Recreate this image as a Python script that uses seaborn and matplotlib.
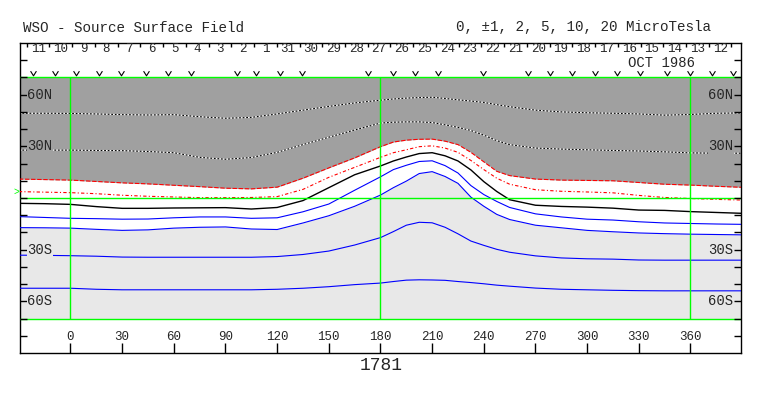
import matplotlib
matplotlib.use("Agg")
import matplotlib.pyplot as plt
from matplotlib.path import Path
import seaborn as sns

# ---------------- data ----------------
lon = [-30, -15, 0, 15, 30, 45, 60, 75, 90, 105, 120, 135, 150, 165, 180, 187.5,
       195, 202.5, 210, 217.5, 225, 232.5, 240, 247.5, 255, 270, 285, 300, 315, 330, 345, 360, 375, 390]

# contour latitudes (deg)
dot_upper = [49.2, 49.2, 49.1, 48.8, 48.4, 48.2, 48.4, 47.2, 46.3, 46.8, 48.8, 51.0, 53.2, 55.2, 56.8, 57.5,
             58.0, 58.3, 58.5, 57.8, 57.0, 56.3, 55.5, 54.2, 53.0, 51.0, 50.0, 49.5, 49.2, 48.8, 48.1, 48.5, 49.2, 49.4]
dot_lower = [27.8, 27.8, 27.8, 27.6, 27.5, 27.0, 26.3, 23.6, 22.5, 23.5, 26.5, 31.0, 35.3, 39.5, 43.5, 44.0,
             44.2, 44.2, 43.8, 42.5, 41.0, 39.2, 36.5, 33.3, 31.0, 29.0, 28.4, 28.0, 27.6, 27.3, 26.8, 26.2, 26.0, 26.0]
red_upper = [11.0, 10.7, 10.4, 9.6, 8.8, 8.2, 7.4, 6.6, 5.7, 5.3, 6.3, 11.5, 17.5, 23.3, 29.8, 32.5,
             33.6, 34.1, 34.2, 33.0, 31.0, 26.5, 21.0, 15.5, 13.0, 11.0, 10.4, 10.2, 10.0, 9.0, 8.0, 7.5, 6.8, 6.2]
red_lower = [3.7, 3.4, 3.1, 2.5, 1.6, 1.0, 0.6, 0.2, 0.2, 0.3, 0.8, 5.0, 12.0, 17.8, 23.6, 26.3,
             28.0, 29.8, 30.3, 29.0, 26.5, 21.8, 16.5, 11.5, 8.0, 4.8, 3.9, 3.5, 3.0, 1.5, 0.3, -0.3, -0.8, -1.2]
neutral = [-3.1, -3.3, -3.7, -5.0, -6.0, -6.0, -5.8, -5.7, -5.6, -6.4, -5.5, -1.5, 6.0, 13.5, 18.6, 21.5,
           23.8, 25.8, 26.3, 24.5, 21.5, 16.3, 9.5, 3.8, -1.0, -4.2, -4.9, -5.3, -5.9, -7.0, -7.2, -7.9, -8.4, -8.9]
blue_1 = [-10.8, -11.3, -11.8, -12.0, -12.3, -12.2, -11.5, -11.0, -11.0, -11.8, -11.5, -8.0, -3.5, 4.5, 12.3, 16.5,
          19.0, 21.2, 21.6, 18.8, 14.5, 7.2, 2.0, -2.0, -5.5, -9.2, -11.0, -12.3, -12.8, -13.8, -14.5, -14.8, -15.1, -15.3]
blue_2 = [-17.2, -17.3, -17.5, -18.2, -18.8, -18.5, -17.5, -17.0, -16.8, -18.0, -18.3, -14.5, -10.3, -4.8, 1.7, 6.0,
          9.8, 14.2, 15.3, 12.5, 8.5, 0.5, -4.8, -9.5, -12.5, -15.8, -17.3, -18.8, -19.6, -20.3, -20.7, -21.0, -21.2, -21.4]
blue_3 = [-33.2, -33.3, -33.5, -33.8, -34.3, -34.4, -34.4, -34.4, -34.4, -34.4, -34.0, -32.8, -30.8, -27.3, -23.0, -19.5,
          -15.8, -14.1, -14.4, -17.0, -20.8, -25.0, -27.5, -29.8, -31.5, -33.6, -34.8, -35.3, -35.5, -36.0, -36.1, -36.1, -36.1, -36.1]
blue_4 = [-52.4, -52.4, -52.4, -53.0, -53.3, -53.3, -53.3, -53.3, -53.3, -53.3, -53.0, -52.4, -51.5, -50.3, -49.4, -48.5,
          -47.7, -47.5, -47.6, -47.8, -48.5, -49.1, -49.8, -50.6, -51.2, -52.3, -53.0, -53.3, -53.6, -53.8, -53.9, -53.9, -53.9, -53.9]

# observation markers (longitude)
obs_lon = [-21.8, -9.0, 3.2, 16.6, 29.2, 43.8, 56.4, 70.0, 96.5, 108.0, 121.7, 134.3, 173.0,
           187.3, 200.0, 213.4, 239.5, 265.7, 278.5, 291.0, 304.6, 317.2, 330.7, 346.2, 359.8, 372.4, 384.7]

# day labels along the top (right-to-left in time)
day_labels = ["11", "10", "9", "8", "7", "6", "5", "4", "3", "2", "1", "31", "30", "29", "28", "27",
              "26", "25", "24", "23", "22", "21", "20", "19", "18", "17", "16", "15", "14", "13", "12"]
day_first_tick = -25.4
day_step = 13.2

lon_ticks = [0, 30, 60, 90, 120, 150, 180, 210, 240, 270, 300, 330, 360]
lat_ticks = [-80, -70, -60, -50, -40, -30, -20, -10, 0, 10, 20, 30, 40, 50, 60, 70, 80]
lat_labels = {60: "60N", 30: "30N", -30: "30S", -60: "60S"}

# ---------------- figure ----------------
sns.set_style("white")
plt.rcParams["font.family"] = ["Liberation Mono", "DejaVu Sans Mono"]

W, H = 763, 396
fig = plt.figure(figsize=(W / 100, H / 100), dpi=100)
ax = fig.add_axes([20 / W, 43 / H, 721 / W, 310 / H])
X0, X1 = -29.32, 389.33
ax.set_xlim(X0, X1)
ax.set_ylim(-90, 90)
ax.set_xticks([])
ax.set_yticks([])
for s in ax.spines.values():
    s.set_linewidth(1.0)
    s.set_color("black")
ax.set_facecolor("white")

DARK = "#a0a0a0"
LIGHT = "#e8e8e8"
GREEN = "#00ff00"

# shading
ax.fill_between(lon, red_upper, 70, color=DARK, lw=0, zorder=0)
ax.fill_between(lon, -70, blue_2, color=LIGHT, lw=0, zorder=0)

lw = 0.8
# dotted (black/white) contours on dark region
for arr in (dot_upper, dot_lower):
    sns.lineplot(x=lon, y=arr, ax=ax, color="white", lw=lw, zorder=2)
    sns.lineplot(x=lon, y=arr, ax=ax, color="black", lw=lw, linestyle=(0, (1.6, 1.6)), zorder=3)
sns.lineplot(x=lon, y=red_upper, ax=ax, color="#ff0000", lw=lw, linestyle=(0, (4, 1.5)), zorder=3)
sns.lineplot(x=lon, y=red_lower, ax=ax, color="#ff0000", lw=lw, linestyle=(0, (3, 2, 1, 2)), zorder=3)
sns.lineplot(x=lon, y=neutral, ax=ax, color="black", lw=1.0, zorder=3)
for arr in (blue_1, blue_2, blue_3, blue_4):
    sns.lineplot(x=lon, y=arr, ax=ax, color="#0000ff", lw=lw, zorder=3)

# green reference lines
ax.hlines([70, 0, -70], X0, X1, color=GREEN, lw=1.0, zorder=4)
ax.vlines([0, 180, 360], -70, 70, color=GREEN, lw=1.0, zorder=4)
ax.text(X0 - 1.8, 3.5, ">", color=GREEN, fontsize=7, ha="center", va="center", clip_on=False)

# latitude ticks and labels
ax.hlines(lat_ticks, X0, X0 + 4, color="black", lw=1.0, zorder=5)
ax.hlines(lat_ticks, X1 - 4, X1, color="black", lw=1.0, zorder=5)
for lat, lab in lat_labels.items():
    bg = DARK if lat > 0 else LIGHT
    ax.text(X0 + 4.3, lat, lab, fontsize=10, ha="left", va="center", zorder=6,
            bbox=dict(facecolor=bg, edgecolor="none", pad=0.6))
    ax.text(X1 - 4.3, lat, lab, fontsize=10, ha="right", va="center", zorder=6,
            bbox=dict(facecolor=bg, edgecolor="none", pad=0.6))

# longitude ticks (bottom)
ax.vlines(lon_ticks, -90, -84.3, color="black", lw=1.0)
for t in lon_ticks:
    ax.text(t, -81, str(t), fontsize=9, ha="center", va="center")

# day ticks (top)
day_ticks = [day_first_tick + i * day_step for i in range(len(day_labels) + 1)]
ax.vlines(day_ticks, 87.6, 90, color="black", lw=1.0)
for i, lab in enumerate(day_labels):
    ax.text(day_first_tick + (i + 0.5) * day_step, 86.3, lab, fontsize=9, ha="center", va="center")
ax.text(362.7, 78.4, "OCT 1986", fontsize=10, ha="right", va="center")

# observation markers (open "V" marks)
vmark = Path([(-1.0, 0.8), (0.0, -0.8), (1.0, 0.8)], [Path.MOVETO, Path.LINETO, Path.LINETO])
ax.plot(obs_lon, [72.4] * len(obs_lon), linestyle="none", marker=vmark, markersize=4.2,
        markerfacecolor="none", markeredgecolor="black", markeredgewidth=0.8, zorder=5)

# titles
fig.text(23 / W, 1 - 27.5 / H, "WSO - Source Surface Field", fontsize=10.3, ha="left", va="center")
fig.text(711 / W, 1 - 27.5 / H, "0, \u00b11, 2, 5, 10, 20 MicroTesla", fontsize=10.3, ha="right", va="center")
fig.text(381 / W, 1 - 366 / H, "1781", fontsize=13, ha="center", va="center")

fig.savefig("out.png", dpi=100)
